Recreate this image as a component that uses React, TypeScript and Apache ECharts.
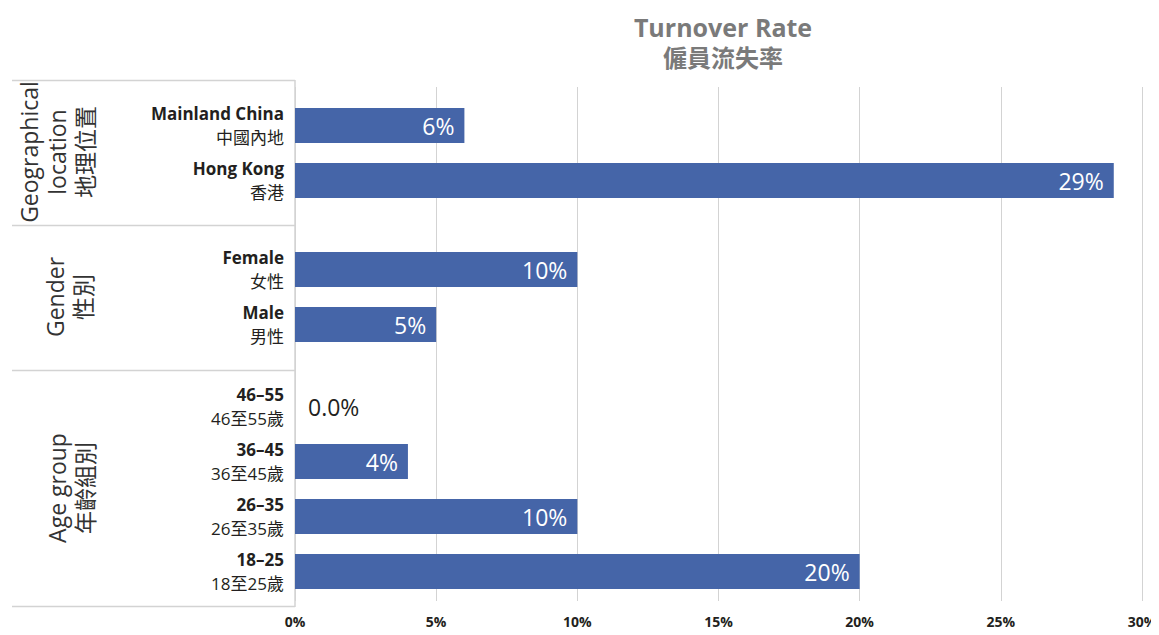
import React, { useEffect, useRef } from "react";
import * as echarts from "echarts";

const titleEn = "Turnover Rate";
const titleZh = "僱員流失率";

const geoEn = ["Mainland China", "Hong Kong"];
const geoZh = ["中國內地", "香港"];
const geoValues = [6, 29];

const genderEn = ["Female", "Male"];
const genderZh = ["女性", "男性"];
const genderValues = [10, 5];

const ageEn = ["46–55", "36–45", "26–35", "18–25"];
const ageZh = ["46至55歲", "36至45歲", "26至35歲", "18至25歲"];
const ageValues = [0, 4, 10, 20];

const groupLabels = ["Geographical\nlocation\n地理位置", "Gender\n性別", "Age group\n年齡組別"];

const xMin = 0;
const xMax = 30;
const xStep = 5;

const FONT = "'Open Sans', 'Noto Sans CJK TC', sans-serif";
const BAR = "#4565a8";
const DARK = "#231f20";
const LINE = "#d3d3d3";

export default function App() {
  const ref = useRef<HTMLDivElement>(null);
  useEffect(() => {
    if (!ref.current) return;
    const chart = echarts.init(ref.current, null, { renderer: "svg" });

    const groups = [
      { en: geoEn, zh: geoZh, values: geoValues, top: 98, height: 110 },
      { en: genderEn, zh: genderZh, values: genderValues, top: 242, height: 110 },
      { en: ageEn, zh: ageZh, values: ageValues, top: 379, height: 220 },
    ];

    const grids: any[] = [
      { left: 295, right: 17, top: 87, bottom: 34, outerBoundsMode: "none" },
    ];
    const xAxes: any[] = [
      {
        type: "value",
        gridIndex: 0,
        min: xMin,
        max: xMax,
        interval: xStep,
        axisLine: { show: false },
        axisTick: { show: false },
        splitLine: { show: true, lineStyle: { color: LINE, width: 1 } },
        axisLabel: {
          formatter: "{value}%",
          margin: 13,
          color: DARK,
          fontWeight: "bold",
          fontSize: 14,
          fontFamily: FONT,
        },
      },
    ];
    const yAxes: any[] = [
      { type: "category", gridIndex: 0, data: [""], show: false },
    ];
    const series: any[] = [];

    groups.forEach((g, i) => {
      const gi = i + 1;
      grids.push({ left: 295, right: 17, top: g.top, height: g.height, outerBoundsMode: "none" });
      xAxes.push({
        type: "value",
        gridIndex: gi,
        min: xMin,
        max: xMax,
        interval: xStep,
        show: false,
        splitLine: { show: false },
      });
      yAxes.push({
        type: "category",
        gridIndex: gi,
        inverse: true,
        data: g.en.map((e, k) => e + "\n" + g.zh[k]),
        axisLine: { show: false },
        axisTick: { show: false },
        axisLabel: {
          margin: 11,
          align: "right",
          formatter: (v: string) => {
            const [en, zh] = v.split("\n");
            return `{en|${en}}\n{zh|${zh}}`;
          },
          rich: {
            en: { fontFamily: FONT, fontWeight: "bold", fontSize: 17, color: DARK, lineHeight: 24, align: "right" },
            zh: { fontFamily: FONT, fontSize: 17, color: DARK, lineHeight: 24, align: "right" },
          },
        },
      });
      series.push({
        type: "bar",
        xAxisIndex: gi,
        yAxisIndex: gi,
        barWidth: 35,
        itemStyle: { color: BAR },
        label: {
          show: true,
          position: "insideRight",
          distance: 10,
          color: "#ffffff",
          fontSize: 23,
          fontFamily: FONT,
          formatter: (p: any) => (p.value === 0 ? "0.0%" : p.value + "%"),
        },
        data: g.values.map((v) =>
          v === 0
            ? { value: v, label: { position: "right", distance: 13, color: DARK } }
            : v
        ),
      });
    });

    const boxLine = (y: number) => ({
      type: "line",
      shape: { x1: 12, y1: y, x2: 295, y2: y },
      style: { stroke: LINE, lineWidth: 1.5 },
      silent: true,
    });

    const groupText = (text: string, x: number, y: number) => ({
      type: "text",
      x,
      y,
      rotation: Math.PI / 2,
      style: {
        text,
        fontFamily: FONT,
        fontSize: 23,
        lineHeight: 28,
        fill: "#333333",
        align: "center",
        verticalAlign: "middle",
        textAlign: "center",
        textVerticalAlign: "middle",
      },
      silent: true,
    });

    chart.setOption({
      animation: false,
      title: {
        text: `{en|${titleEn}}\n{zh|${titleZh}}`,
        left: 718,
        top: 6,
        textAlign: "center",
        textStyle: {
          rich: {
            en: { fontFamily: FONT, fontWeight: "bold", fontSize: 25, color: "#7a7a7a", lineHeight: 31, align: "center" },
            zh: { fontFamily: FONT, fontWeight: "bold", fontSize: 24, color: "#7a7a7a", lineHeight: 31, align: "center" },
          },
        },
      },
      grid: grids,
      xAxis: xAxes,
      yAxis: yAxes,
      series,
      graphic: [
        boxLine(80.5),
        boxLine(225.5),
        boxLine(370.5),
        boxLine(606.5),
        {
          type: "line",
          shape: { x1: 295, y1: 80, x2: 295, y2: 607 },
          style: { stroke: LINE, lineWidth: 1.5 },
          silent: true,
        },
        groupText(groupLabels[0], 57, 152),
        groupText(groupLabels[1], 69, 297),
        groupText(groupLabels[2], 71, 488),
      ],
    });

    return () => chart.dispose();
  }, []);
  return <div ref={ref} style={{ width: 1159, height: 635, margin: -8 }} />;
}
